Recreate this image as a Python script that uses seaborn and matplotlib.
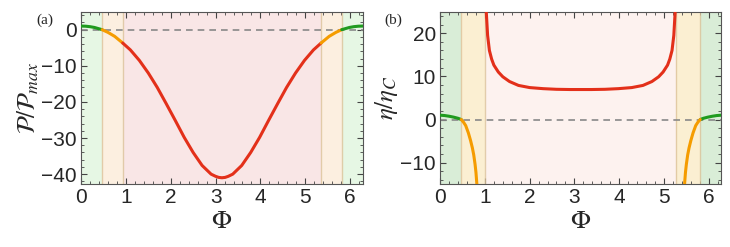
import numpy as np
import pandas as pd
import seaborn as sns
import matplotlib
matplotlib.use("Agg")
import matplotlib.pyplot as plt
from matplotlib.ticker import AutoMinorLocator

# ---- panel (a): power P/Pmax vs phase Phi
phi_p = [0.0, 0.1, 0.2, 0.3, 0.47, 0.6, 0.75, 0.93, 1.1, 1.3, 1.5, 1.7, 1.9,
         2.1, 2.3, 2.5, 2.7, 2.9, 3.0, 3.07, 3.1416, 3.213, 3.283, 3.383,
         3.583, 3.783, 3.983, 4.183, 4.383, 4.583, 4.783, 4.983, 5.183,
         5.353, 5.533, 5.683, 5.813, 5.983, 6.083, 6.183, 6.2832]
power = [1.0, 0.96, 0.83, 0.61, 0.0, -0.75, -1.85, -3.7, -5.6, -8.5, -12.0,
         -16.0, -20.5, -25.1, -29.8, -34.0, -37.6, -40.0, -40.6, -40.9, -41.0,
         -40.9, -40.6, -40.0, -37.6, -34.0, -29.8, -25.1, -20.5, -16.0, -12.0,
         -8.5, -5.6, -3.7, -1.85, -0.75, 0.0, 0.61, 0.83, 0.96, 1.0]
bounds_a = [0.0, 0.47, 0.93, 5.353, 5.813, 6.2832]

# ---- panel (b): efficiency eta/eta_C, three branches
phi_green = [0.0, 0.1, 0.2, 0.3, 0.4, 0.47, 5.813, 5.883, 5.983, 6.083, 6.183, 6.2832]
eta_green = [1.0, 0.92, 0.76, 0.55, 0.28, 0.0, 0.0, 0.28, 0.55, 0.76, 0.92, 1.0]

phi_orange_l = [0.47, 0.52, 0.57, 0.63, 0.68, 0.72, 0.75, 0.78, 0.80, 0.82, 0.84]
eta_orange_l = [0.0, -0.6, -1.4, -3.1, -4.9, -6.6, -8.2, -10.4, -12.3, -15.0, -18.0]
phi_orange_r = [5.443, 5.463, 5.483, 5.503, 5.533, 5.563, 5.603, 5.653, 5.713, 5.763, 5.813]
eta_orange_r = [-18.0, -15.0, -12.3, -10.4, -8.2, -6.6, -4.9, -3.1, -1.4, -0.6, 0.0]

phi_red = [1.0, 1.03, 1.06, 1.1, 1.15, 1.2, 1.3, 1.4, 1.55, 1.75, 2.0, 2.3,
           2.6, 2.9, 3.1416, 3.383, 3.683, 3.983, 4.283, 4.533, 4.733, 4.883,
           4.983, 5.083, 5.133, 5.183, 5.223, 5.253, 5.283]
eta_red = [30.0, 25.0, 19.5, 16.0, 14.0, 12.6, 11.0, 9.9, 8.8, 7.9, 7.4, 7.15,
           7.0, 6.95, 6.95, 6.95, 7.0, 7.15, 7.4, 7.9, 8.8, 9.9, 11.0, 12.6,
           14.0, 16.0, 19.5, 25.0, 30.0]
bounds_b = [0.0, 0.47, 1.01, 5.273, 5.813, 6.2832]

GREEN, ORANGE, RED = "#1f9b1f", "#f59c00", "#e3301a"

sns.set_style("ticks")
plt.rcParams["font.family"] = ["Liberation Sans", "DejaVu Sans"]
plt.rcParams["mathtext.fontset"] = "stix"

fig = plt.figure(figsize=(7.3, 2.47), dpi=100)
ax1 = fig.add_axes([0.111, 0.254, 0.386, 0.699])
ax2 = fig.add_axes([0.603, 0.254, 0.385, 0.699])


def shade(ax, bounds, fills):
    for i, c in enumerate(fills):
        ax.axvspan(bounds[i], bounds[i + 1], color=c, lw=0, zorder=0)
    for b in bounds[1:-1]:
        ax.axvline(b, color="#dcc39a", lw=1.0, alpha=0.8, zorder=1)


shade(ax1, bounds_a, ["#e6f7e4", "#fcefe0", "#f9e6e6", "#fcefe0", "#e6f7e4"])
shade(ax2, bounds_b, ["#d9edd7", "#fbefd2", "#fdf2ef", "#fbefd2", "#d9edd7"])

df_a = pd.DataFrame({"phi": phi_p, "P": power})
segs = [(bounds_a[0], bounds_a[1], GREEN), (bounds_a[1], bounds_a[2], ORANGE),
        (bounds_a[2], bounds_a[3], RED), (bounds_a[3], bounds_a[4], ORANGE),
        (bounds_a[4], bounds_a[5], GREEN)]
for lo, hi, col in segs:
    d = df_a[(df_a.phi >= lo - 1e-6) & (df_a.phi <= hi + 1e-6)]
    sns.lineplot(data=d, x="phi", y="P", color=col, lw=2.2, ax=ax1,
                 sort=False, zorder=3)

for xs, ys, col in [(phi_green[:6], eta_green[:6], GREEN),
                    (phi_green[6:], eta_green[6:], GREEN),
                    (phi_orange_l, eta_orange_l, ORANGE),
                    (phi_orange_r, eta_orange_r, ORANGE),
                    (phi_red, eta_red, RED)]:
    sns.lineplot(x=xs, y=ys, color=col, lw=2.2, ax=ax2, sort=False, zorder=3)

for ax in (ax1, ax2):
    ax.axhline(0, color="#888888", lw=1.2, ls=(0, (4, 3)), zorder=2)
    ax.set_xlim(0, 2 * np.pi)
    ax.set_xticks(range(7))
    ax.xaxis.set_minor_locator(AutoMinorLocator(5))
    ax.yaxis.set_minor_locator(AutoMinorLocator(5))
    ax.tick_params(which="both", direction="in", top=True, right=True,
                   labelsize=15, color="#444444")
    ax.tick_params(which="major", length=4, pad=3)
    ax.tick_params(which="minor", length=2)
    for s in ax.spines.values():
        s.set_color("#555555")
        s.set_linewidth(0.8)
    ax.set_xlabel(r"$\Phi$", fontsize=19, labelpad=1)

ax1.set_ylim(-42.8, 5)
ax1.set_yticks([0, -10, -20, -30, -40])
ax1.set_ylabel(r"$\mathcal{P}/\mathcal{P}_{max}$", fontsize=18, labelpad=0)
ax2.set_ylim(-15, 25)
ax2.set_yticks([-10, 0, 10, 20])
ax2.set_ylabel(r"$\eta/\eta_C$", fontsize=18, labelpad=0)

fig.text(0.050, 0.905, "(a)", fontsize=11, family="Liberation Serif")
fig.text(0.527, 0.905, "(b)", fontsize=11, family="Liberation Serif")

fig.savefig("out.png", dpi=100)
